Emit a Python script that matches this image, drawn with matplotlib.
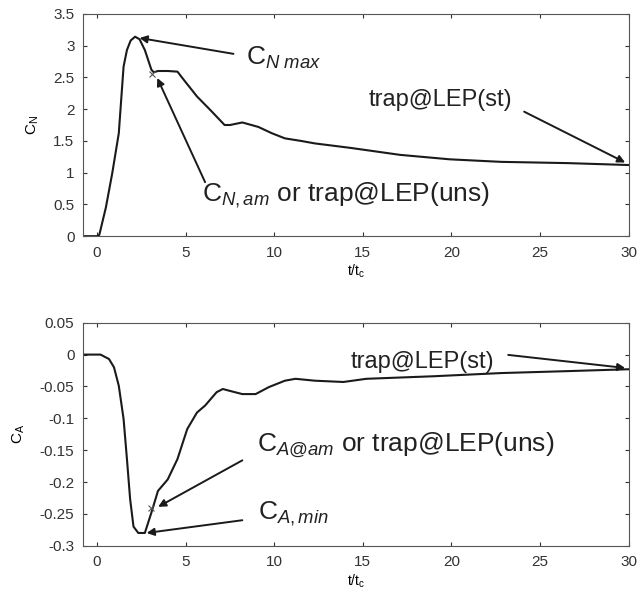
import matplotlib
matplotlib.use("Agg")
import matplotlib.pyplot as plt

plt.rcParams["font.family"] = ["Liberation Sans", "DejaVu Sans"]
plt.rcParams["mathtext.fontset"] = "custom"
plt.rcParams["mathtext.rm"] = "Liberation Sans"
plt.rcParams["mathtext.it"] = "Liberation Sans:italic"

# C_N history
t_cn = [-0.8, 0.0, 0.13, 0.5, 0.86, 1.23, 1.5, 1.69, 1.9, 2.15, 2.4, 2.7, 3.07,
        3.2, 3.44, 4.0, 4.54, 4.9, 5.64, 6.38, 7.2, 7.5, 8.2, 9.1, 9.87, 10.6,
        11.5, 12.3, 14.3, 17.1, 19.9, 22.8, 26.6, 30.0]
cn = [0.0, 0.0, 0.02, 0.45, 0.99, 1.62, 2.67, 2.93, 3.08, 3.14, 3.1, 2.93, 2.62,
      2.58, 2.6, 2.6, 2.59, 2.46, 2.2, 1.99, 1.75, 1.75, 1.79, 1.72, 1.62, 1.54,
      1.5, 1.46, 1.39, 1.28, 1.21, 1.17, 1.15, 1.12]

# C_A history
t_ca = [-0.8, 0.2, 0.68, 0.96, 1.23, 1.5, 1.69, 1.87, 2.06, 2.33, 2.7, 3.07,
        3.44, 3.99, 4.54, 5.09, 5.64, 6.1, 6.75, 7.1, 7.5, 8.2, 8.95, 9.7, 10.6,
        11.2, 12.3, 13.9, 15.2, 19.0, 22.8, 26.5, 30.0]
ca = [0.0, 0.0, -0.007, -0.02, -0.049, -0.101, -0.164, -0.227, -0.27, -0.28,
      -0.28, -0.248, -0.214, -0.196, -0.164, -0.117, -0.091, -0.08, -0.059,
      -0.054, -0.057, -0.062, -0.062, -0.051, -0.041, -0.038, -0.041, -0.043,
      -0.038, -0.034, -0.029, -0.026, -0.023]

cn_ticks = [0, 0.5, 1, 1.5, 2, 2.5, 3, 3.5]
ca_ticks = [-0.3, -0.25, -0.2, -0.15, -0.1, -0.05, 0, 0.05]
x_ticks = [0, 5, 10, 15, 20, 25, 30]

line_col = "#1a1a1a"
arrow = dict(arrowstyle="-|>", color=line_col, lw=1.4, mutation_scale=11,
             shrinkA=0, shrinkB=0)
small = dict(fontsize=17, color="#222222", va="center")
big = dict(fontsize=19, color="#222222", va="center")

fig = plt.figure(figsize=(6.37, 6.01), dpi=100)
ax1 = fig.add_axes([0.130, 0.607, 0.857, 0.370])
ax2 = fig.add_axes([0.130, 0.092, 0.857, 0.371])

for ax in (ax1, ax2):
    ax.set_xlim(-0.8, 30)
    ax.set_xticks(x_ticks)
    ax.tick_params(direction="in", top=True, right=True, labelsize=11,
                   colors="#333333", length=3)
    ax.tick_params(axis="x", pad=7)
    ax.tick_params(axis="y", pad=6)
    for s in ax.spines.values():
        s.set_color("#555555")
        s.set_linewidth(0.8)
    ax.set_xlabel(r"t/t$_\mathrm{c}$", fontsize=10, labelpad=2)

# top panel
ax1.plot(t_cn, cn, color=line_col, lw=1.5)
ax1.plot([3.1], [2.56], marker="x", color="#555555", ms=5, mew=0.8)
ax1.set_ylim(0, 3.5)
ax1.set_yticks(cn_ticks)
ax1.set_yticklabels(["0", "0.5", "1", "1.5", "2", "2.5", "3", "3.5"])
ax1.set_ylabel(r"C$_\mathrm{N}$", fontsize=11, labelpad=9)

ax1.annotate("", xy=(2.4, 3.12), xytext=(7.7, 2.87), arrowprops=arrow)
ax1.text(8.4, 2.8, r"C$_{\mathit{N\ max}}$", **big)
ax1.annotate("", xy=(3.4, 2.49), xytext=(6.1, 0.85), arrowprops=arrow)
ax1.text(5.9, 0.64, r"C$_{\mathit{N,am}}$ or trap@LEP(uns)", **big)
ax1.annotate("", xy=(29.8, 1.16), xytext=(24.1, 1.96), arrowprops=arrow)
ax1.text(15.3, 2.15, "trap@LEP(st)", **small)

# bottom panel
ax2.plot(t_ca, ca, color=line_col, lw=1.5)
ax2.plot([3.05], [-0.241], marker="x", color="#555555", ms=5, mew=0.8)
ax2.set_ylim(-0.3, 0.05)
ax2.set_yticks(ca_ticks)
ax2.set_yticklabels(["-0.3", "-0.25", "-0.2", "-0.15", "-0.1", "-0.05", "0", "0.05"])
ax2.set_ylabel(r"C$_\mathrm{A}$", fontsize=11, labelpad=9)

ax2.annotate("", xy=(3.45, -0.239), xytext=(8.2, -0.166), arrowprops=arrow)
ax2.text(9.0, -0.142, r"C$_{\mathit{A@am}}$ or trap@LEP(uns)", **big)
ax2.annotate("", xy=(2.8, -0.28), xytext=(8.2, -0.26), arrowprops=arrow)
ax2.text(9.1, -0.25, r"C$_{\mathit{A,min}}$", **big)
ax2.annotate("", xy=(29.8, -0.021), xytext=(23.2, -0.0005), arrowprops=arrow)
ax2.text(14.3, -0.011, "trap@LEP(st)", **small)

fig.savefig("out.png", dpi=100)
